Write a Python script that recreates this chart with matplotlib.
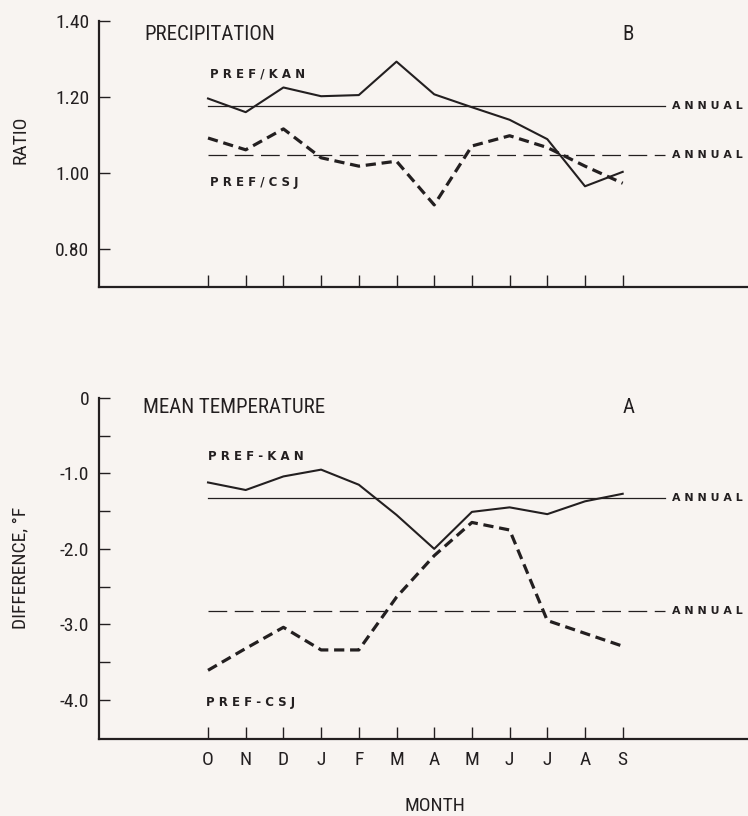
import matplotlib
matplotlib.use("Agg")
import matplotlib.pyplot as plt
from matplotlib import font_manager as fm
from matplotlib.ticker import FixedLocator

months = ["O", "N", "D", "J", "F", "M", "A", "M", "J", "J", "A", "S"]

# precipitation ratios (panel B)
pref_kan_ratio = [1.196, 1.160, 1.225, 1.202, 1.205, 1.293, 1.207, 1.173, 1.140, 1.089, 0.965, 1.003]
pref_csj_ratio = [1.092, 1.061, 1.116, 1.040, 1.018, 1.031, 0.916, 1.071, 1.098, 1.067, 1.018, 0.973]
annual_kan_ratio = 1.175
annual_csj_ratio = 1.046

# mean temperature differences, deg F (panel A)
pref_kan_temp = [-1.12, -1.22, -1.04, -0.95, -1.15, -1.55, -2.00, -1.51, -1.45, -1.54, -1.37, -1.27]
pref_csj_temp = [-3.61, -3.32, -3.04, -3.34, -3.34, -2.64, -2.09, -1.65, -1.75, -2.95, -3.12, -3.29]
annual_kan_temp = -1.33
annual_csj_temp = -2.83

ink = "#231f20"
bg = "#f8f4f1"

# pick a narrow face for the plain labels, fall back to DejaVu
installed = {f.name for f in fm.fontManager.ttflist}
candidates = ["Roboto Condensed", "Archivo Narrow", "PT Sans Narrow",
              "Liberation Sans Narrow", "Encode Sans Condensed",
              "IBM Plex Sans Condensed", "Barlow Semi Condensed", "Open Sans Condensed"]
narrow = [c for c in candidates if c in installed][:1] + ["DejaVu Sans"]
plt.rcParams["font.family"] = narrow

fig = plt.figure(figsize=(7.48, 8.16), dpi=100, facecolor=bg)
ax1 = fig.add_axes([0.1324, 0.6483, 0.8676, 0.3260])
ax2 = fig.add_axes([0.1324, 0.0944, 0.8676, 0.4179])

x = list(range(len(months)))
annual_end = 12.12
label_x = 12.31

def style(ax, ylim):
    ax.set_facecolor(bg)
    ax.set_xlim(-2.891, 14.324)
    ax.set_ylim(*ylim)
    for s in ("top", "right"):
        ax.spines[s].set_visible(False)
    for s in ("left", "bottom"):
        ax.spines[s].set_linewidth(1.6)
        ax.spines[s].set_color(ink)
    ax.xaxis.set_major_locator(FixedLocator(x))
    ax.tick_params(axis="x", direction="in", length=9, width=1.0, color=ink)
    ax.tick_params(axis="y", direction="in", length=8, width=1.0, color=ink,
                   labelsize=14, pad=7, labelcolor=ink)
    ax.tick_params(axis="y", which="minor", direction="in", length=8, width=1.0, color=ink)

def spaced(s):
    return " ".join(s)

def bold_label(ax, xx, yy, s):
    ax.text(xx, yy, spaced(s), family="DejaVu Sans", weight="bold",
            fontsize=8.5, color=ink, ha="left", va="center")

def annual(ax, y, ls):
    if ls == "solid":
        ax.plot([0, annual_end], [y, y], color=ink, lw=0.9)
    else:
        ax.plot([0, annual_end], [y, y], color=ink, lw=0.9, dashes=(15, 6))
    ax.text(label_x, y, spaced("ANNUAL"), family="DejaVu Sans", weight="bold",
            fontsize=7.9, color=ink, ha="left", va="center")

# panel B: precipitation
ax1.set_yticks([0.80, 1.00, 1.20, 1.40])
ax1.set_yticklabels(["0.80", "1.00", "1.20", "1.40"])
ax1.set_xticklabels([])
style(ax1, (0.70, 1.40))
annual(ax1, annual_kan_ratio, "solid")
annual(ax1, annual_csj_ratio, "dashed")
ax1.plot(x, pref_kan_ratio, color=ink, lw=1.5)
ax1.plot(x, pref_csj_ratio, color=ink, lw=2.3, dashes=(3.2, 1.8))
ax1.text(-1.68, 1.365, "PRECIPITATION", fontsize=15, color=ink, va="center")
ax1.text(11.0, 1.365, "B", fontsize=15, color=ink, va="center")
bold_label(ax1, 0.05, 1.26, "PREF/KAN")
bold_label(ax1, 0.05, 0.975, "PREF/CSJ")

# panel A: mean temperature
ax2.set_yticks([-4, -3, -2, -1, 0])
ax2.set_yticklabels(["-4.0", "-3.0", "-2.0", "-1.0", "0"])
ax2.set_yticks([-3.5, -2.5, -1.5, -0.5], minor=True)
ax2.set_xticklabels(months)
style(ax2, (-4.52, 0))
ax2.tick_params(axis="x", labelsize=14, pad=9, labelcolor=ink)
annual(ax2, annual_kan_temp, "solid")
annual(ax2, annual_csj_temp, "dashed")
ax2.plot(x, pref_kan_temp, color=ink, lw=1.5)
ax2.plot(x, pref_csj_temp, color=ink, lw=2.3, dashes=(3.2, 1.8))
ax2.text(-1.72, -0.12, "MEAN TEMPERATURE", fontsize=15, color=ink, va="center")
ax2.text(11.0, -0.12, "A", fontsize=15, color=ink, va="center")
bold_label(ax2, 0.0, -0.77, "PREF-KAN")
bold_label(ax2, -0.05, -4.04, "PREF-CSJ")

fig.text(0.027, 1 - 140 / 816, "RATIO", rotation=90, fontsize=14,
         color=ink, ha="center", va="center")
fig.text(0.027, 1 - 568 / 816, "DIFFERENCE, °F", rotation=90, fontsize=14,
         color=ink, ha="center", va="center")
fig.text(435 / 748, 1 - 806 / 816, "MONTH", fontsize=14, color=ink,
         ha="center", va="center")

fig.savefig("out.png", dpi=100, facecolor=bg)
